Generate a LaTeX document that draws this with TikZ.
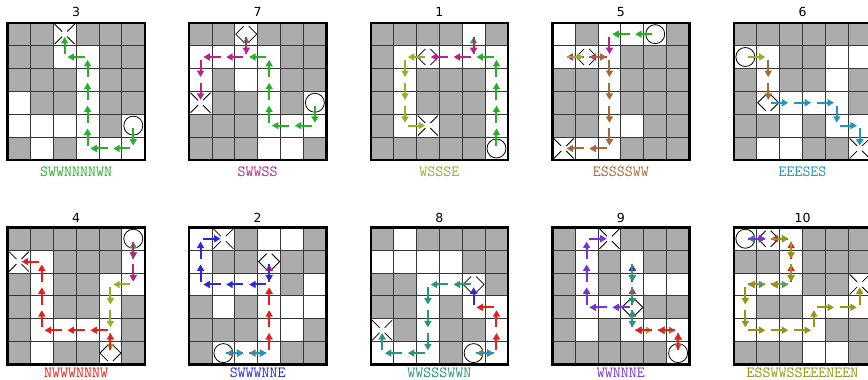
\documentclass[tikz,border=0pt]{standalone}
\usepackage{fontspec}
\newfontfamily\titlefont{DejaVu Sans}
\usetikzlibrary{arrows.meta}
\definecolor{cellgray}{RGB}{172,172,172}
\definecolor{gridc}{RGB}{55,55,55}
\definecolor{cgreen}{RGB}{38,178,40}
\definecolor{cmag}{RGB}{185,35,135}
\definecolor{cyg}{RGB}{145,180,35}
\definecolor{cbrown}{RGB}{165,105,55}
\definecolor{cteal}{RGB}{30,150,190}
\definecolor{cred}{RGB}{232,30,30}
\definecolor{cblue}{RGB}{40,40,230}
\definecolor{ctg}{RGB}{40,150,120}
\definecolor{cpurple}{RGB}{120,50,220}
\definecolor{colive}{RGB}{150,150,20}
\def\cs{22.87}
\def\gs{137.2}
\tikzset{
  gridln/.style={draw=gridc, line width=0.9pt},
  border/.style={draw=black, line width=2.4pt},
  stepar/.style={line width=2pt, -{Triangle[length=6.5pt,width=7pt]}, shorten <=2.8pt, shorten >=2.8pt},
  markln/.style={draw=black, line width=0.8pt},
  ttl/.style={font=\titlefont\fontsize{12.5}{14}\selectfont, anchor=base, inner sep=0pt},
  lbl/.style={font=\ttfamily\fontsize{15.5}{18}\selectfont, anchor=base, inner sep=0pt},
}
\newcommand\mkpanel[4]{%
\begin{scope}[shift={(#2,#3)}]
  \fill[white] (0,0) rectangle (\gs,\gs);
  \foreach \r/\c in {#4} \fill[cellgray] ({\c*\cs},{\r*\cs}) rectangle ++(\cs,\cs);
  \foreach \i in {1,...,5} {\draw[gridln] ({\i*\cs},0) -- ({\i*\cs},\gs); \draw[gridln] (0,{\i*\cs}) -- (\gs,{\i*\cs});}
  \draw[border] (0,0) rectangle (\gs,\gs);
  \foreach \r in {0,...,5}{\foreach \c in {0,...,5}{\coordinate (#1-\r-\c) at ({(\c+0.5)*\cs},{(\r+0.5)*\cs});}}
\end{scope}}
\newcommand\startmk[1]{\draw[markln] (#1) circle[radius=9.5pt];}
\newcommand\goalmk[1]{\foreach \sx/\sy in {1/1,1/-1,-1/1,-1/-1}{\draw[markln] ([shift={(\sx*10,\sy*10)}]#1) -- ([shift={(\sx*2.5,\sy*2.5)}]#1);}}
\newcommand\midmk[1]{\foreach \sx in {1,-1}{\draw[markln] ([shift={(\sx*2.5,-8)}]#1) -- ([shift={(\sx*10.5,0)}]#1) -- ([shift={(\sx*2.5,8)}]#1);}}
\newcommand\trail[3]{\foreach \r/\c [count=\i, remember=\r as \pr (initially 0), remember=\c as \pc (initially 0)] in {#3} {\ifnum\i>1 \draw[stepar,#2] (#1-\pr-\pc) -- (#1-\r-\c);\fi}}
\begin{document}
\begin{tikzpicture}[x=1pt,y=-1pt]
\useasboundingbox (0,0) rectangle (868,380);
\clip (0,0) rectangle (868,380);
\fill[white] (0,0) rectangle (868,380);
% grids
\mkpanel{A}{7.5}{22.7}{0/0,0/1,0/3,0/4,0/5,1/0,1/1,1/4,1/5,2/0,2/1,2/2,2/4,2/5,3/1,3/2,3/4,3/5,4/4,5/0,5/2}
\mkpanel{B}{189.1}{22.7}{0/0,0/1,0/3,0/4,0/5,1/4,1/5,2/1,2/4,2/5,3/1,3/2,3/4,4/0,4/1,4/2,5/0,5/1,5/2,5/5}
\mkpanel{C}{370.7}{22.7}{0/0,0/1,0/2,0/3,0/5,1/0,2/0,2/2,2/3,2/4,3/0,3/2,3/3,3/4,4/0,4/3,4/4,5/0,5/1,5/2,5/3,5/4}
\mkpanel{D}{552.3}{22.7}{0/1,0/5,1/3,1/4,1/5,2/0,2/1,2/3,2/4,2/5,3/0,3/1,3/3,3/4,3/5,4/0,4/1,4/4,4/5,5/3,5/4,5/5}
\mkpanel{E}{733.9}{22.7}{0/0,0/1,0/2,0/3,0/4,0/5,1/2,1/3,2/0,2/2,2/3,2/5,3/0,3/5,4/0,4/1,4/3,5/0,5/3,5/4}
\mkpanel{F}{7.5}{227.3}{0/0,0/1,0/2,0/3,0/4,1/2,1/3,1/4,2/0,2/2,2/3,3/0,3/2,3/3,3/5,4/0,4/5,5/0,5/2,5/3,5/5}
\mkpanel{G}{189.1}{227.3}{0/2,0/5,1/1,1/2,1/4,1/5,2/4,3/0,3/2,4/0,4/1,4/2,4/5,5/0,5/4,5/5}
\mkpanel{H}{370.7}{227.3}{0/0,0/2,0/3,0/4,0/5,1/4,1/5,2/0,2/1,2/5,3/0,3/1,3/3,4/1,4/3,4/4,5/3}
\mkpanel{I}{552.3}{227.3}{0/0,0/3,0/4,0/5,1/0,1/2,1/4,1/5,2/0,2/2,3/0,3/4,3/5,4/0,4/2,5/0,5/1,5/2,5/3,5/4}
\mkpanel{J}{733.9}{227.3}{0/3,0/4,0/5,1/0,1/1,1/3,1/4,1/5,2/3,2/4,3/1,3/2,4/4,4/5,5/0,5/1,5/2,5/5}
% titles
\node[ttl] (tA) at (76.1,16.7) {3};
\node[ttl] (tB) at (257.7,16.7) {7};
\node[ttl] (tC) at (439.3,16.7) {1};
\node[ttl] (tD) at (620.9,16.7) {5};
\node[ttl] (tE) at (802.5,16.7) {6};
\node[ttl] (tF) at (76.1,222.3) {4};
\node[ttl] (tG) at (257.7,222.3) {2};
\node[ttl] (tH) at (439.3,222.3) {8};
\node[ttl] (tI) at (620.9,222.3) {9};
\node[ttl] (tJ) at (802.5,222.3) {10};
% labels
\node[lbl,text=cgreen] (lA) at (76.1,176) {SWWNNNNWN};
\node[lbl,text=cmag] (lB) at (257.7,176) {SWWSS};
\node[lbl,text=cyg] (lC) at (439.3,176) {WSSSE};
\node[lbl,text=cbrown] (lD) at (620.9,176) {ESSSSWW};
\node[lbl,text=cteal] (lE) at (802.5,176) {EEESES};
\node[lbl,text=cred] (lF) at (76.1,377.6) {NWWWNNNW};
\node[lbl,text=cblue] (lG) at (257.7,377.6) {SWWWNNE};
\node[lbl,text=ctg] (lH) at (439.3,377.6) {WWSSSWWN};
\node[lbl,text=cpurple] (lI) at (620.9,377.6) {WWNNNE};
\node[lbl,text=colive] (lJ) at (802.5,377.6) {ESSWWSSEEENEEN};
% markers
\startmk{A-4-5}\goalmk{A-0-2}
\startmk{B-3-5}\midmk{B-0-2}\goalmk{B-3-0}
\startmk{C-5-5}\midmk{C-1-2}\goalmk{C-4-2}
\startmk{D-0-4}\midmk{D-1-1}\goalmk{D-5-0}
\startmk{E-1-0}\midmk{E-3-1}\goalmk{E-5-5}
\startmk{F-0-5}\midmk{F-5-4}\goalmk{F-1-0}
\startmk{G-5-1}\midmk{G-1-3}\goalmk{G-0-1}
\startmk{H-5-4}\midmk{H-2-4}\goalmk{H-4-0}
\startmk{I-5-5}\midmk{I-3-3}\goalmk{I-0-2}
\startmk{J-0-0}\midmk{J-0-1}\goalmk{J-2-5}
% trails
\trail{A}{cgreen}{4/5,5/5,5/4,5/3,4/3,3/3,2/3,1/3,1/2,0/2}
\trail{B}{cgreen}{3/5,4/5,4/4,4/3,3/3,2/3,1/3,1/2,0/2}
\trail{B}{cmag}{0/2,1/2,1/1,1/0,2/0,3/0}
\trail{C}{cgreen}{5/5,4/5,3/5,2/5,1/5,1/4,0/4}
\trail{C}{cmag}{0/4,1/4,1/3,1/2}
\trail{C}{cyg}{1/2,1/1,2/1,3/1,4/1,4/2}
\trail{D}{cgreen}{0/4,0/3,0/2}
\trail{D}{cmag}{0/2,1/2,1/1,1/0}
\trail{D}{cyg}{1/0,1/1}
\trail{D}{cbrown}{1/1,1/2,2/2,3/2,4/2,5/2,5/1,5/0}
\trail{E}{cyg}{1/0,1/1}
\trail{E}{cbrown}{1/1,2/1,3/1}
\trail{E}{cteal}{3/1,3/2,3/3,3/4,4/4,4/5,5/5}
\trail{F}{cgreen}{0/5,1/5,0/5}
\trail{F}{cmag}{0/5,1/5,2/5}
\trail{F}{cyg}{2/5,2/4,3/4,4/4,5/4}
\trail{F}{cred}{5/4,4/4,4/3,4/2,4/1,3/1,2/1,1/1,1/0}
\trail{G}{cyg}{5/1,5/2}
\trail{G}{cbrown}{5/2,5/3,5/2,5/1}
\trail{G}{cteal}{5/1,5/2,5/3}
\trail{G}{cred}{5/3,4/3,3/3,2/3,1/3}
\trail{G}{cblue}{1/3,2/3,2/2,2/1,2/0,1/0,0/0,0/1}
\trail{H}{cyg}{5/4,5/5}
\trail{H}{cbrown}{5/5,5/4}
\trail{H}{cteal}{5/4,5/5}
\trail{H}{cred}{5/5,4/5,3/5,3/4}
\trail{H}{cblue}{3/4,2/4}
\trail{H}{ctg}{2/4,2/3,2/2,3/2,4/2,5/2,5/1,5/0,4/0}
\trail{I}{cgreen}{5/5,4/5,4/4}
\trail{I}{cmag}{4/4,4/3}
\trail{I}{cyg}{4/3,4/4}
\trail{I}{cbrown}{4/4,4/5,5/5}
\trail{I}{cred}{5/5,4/5,4/4,4/3,3/3,2/3,1/3}
\trail{I}{cblue}{1/3,2/3,1/3}
\trail{I}{ctg}{1/3,2/3,3/3,4/3,3/3}
\trail{I}{cpurple}{3/3,3/2,3/1,2/1,1/1,0/1,0/2}
\trail{J}{cyg}{0/0,0/1}
\trail{J}{cbrown}{0/1,0/2,1/2,2/2,2/1,2/0}
\trail{J}{cteal}{2/0,2/1,2/2}
\trail{J}{cred}{2/2,1/2,0/2,0/1}
\trail{J}{cblue}{0/1,0/0,0/1}
\trail{J}{ctg}{0/1,0/0}
\trail{J}{cpurple}{0/0,0/1}
\trail{J}{colive}{0/1,0/2,1/2,2/2,2/1,2/0,3/0,4/0,4/1,4/2,4/3,3/3,3/4,3/5,2/5}
\end{tikzpicture}
\end{document}
